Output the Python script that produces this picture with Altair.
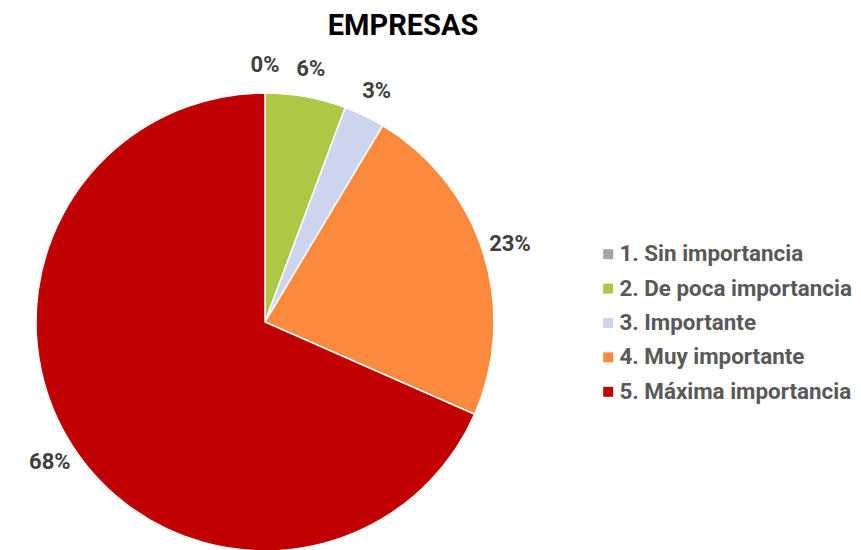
import altair as alt
import pandas as pd

categories = ["1. Sin importancia", "2. De poca importancia", "3. Importante",
              "4. Muy importante", "5. Máxima importancia"]
values = [0.0, 5.7, 2.9, 23.0, 68.4]
labels = ["0%", "6%", "3%", "23%", "68%"]
colors = ["#A5A5A5", "#AEC845", "#CCD5EB", "#FB8A3F", "#C00000"]
title_text = ["EMPRESAS"]

df = pd.DataFrame({"cat": categories, "value": values, "label": labels,
                   "order": list(range(len(categories)))})

base = alt.Chart(df).encode(
    theta=alt.Theta("value:Q", stack=True),
    color=alt.Color(
        "cat:N",
        sort=categories,
        scale=alt.Scale(domain=categories, range=colors),
        legend=alt.Legend(
            title=None, orient="none", legendX=589, legendY=235,
            symbolType="square", symbolSize=100, symbolStrokeWidth=0,
            labelFont="Roboto", labelFontWeight="bold", labelFontSize=22.4,
            labelColor="#595959", labelLimit=0, labelOffset=0, rowPadding=11.4,
        ),
    ),
    order=alt.Order("order:Q"),
)

arcs = base.mark_arc(outerRadius=229, stroke="white", strokeWidth=1.5)
texts = base.mark_text(radius=257, font="Roboto", fontWeight="bold", fontSize=22,
                       baseline="middle", align="center").encode(
    text="label:N", color=alt.value("#404040"))

title = alt.Chart(pd.DataFrame({"t": title_text})).mark_text(
    font="Roboto", fontWeight="bold", fontSize=29, color="#000000",
    baseline="alphabetic", align="center").encode(
    text="t:N", x=alt.value(395), y=alt.value(27))

chart = alt.layer(arcs, texts, title).properties(
    width=514, height=628, padding=0
).configure_view(stroke=None)

chart.save("out.html", embed_options={"renderer": "svg", "actions": False})
